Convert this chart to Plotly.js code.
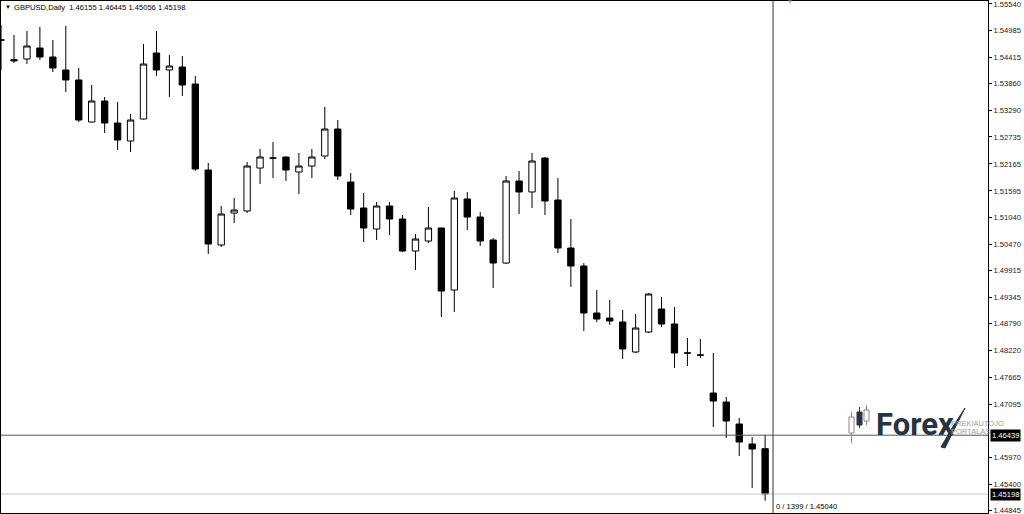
<!DOCTYPE html>
<html><head><meta charset="utf-8">
<script src="https://cdn.plot.ly/plotly-3.0.1.min.js"></script>
<style>html,body{margin:0;padding:0;background:#fff;overflow:hidden}#chart{width:1024px;height:514px}</style>
</head><body><div id="chart"></div><script>
// ---- data ----
const header = "GBPUSD,Daily  1.46155 1.46445 1.45056 1.45198";
const bars = [0,1,2,3,4,5,6,7,8,9,10,11,12,13,14,15,16,17,18,19,20,21,22,23,24,25,26,27,28,29,
  30,31,32,33,34,35,36,37,38,39,40,41,42,43,44,45,46,47,48,49,50,51,52,53,54,55,56,57,58,59];
const open = [1.54782,1.54365,1.54379,1.54611,1.54421,1.54147,1.53936,1.53049,1.53492,1.53028,
  1.52648,1.53112,1.54505,1.54147,1.54210,1.53851,1.52036,1.50453,1.51128,1.51171,
  1.52078,1.52291,1.52310,1.51994,1.52120,1.52331,1.52901,1.51783,1.51234,1.50791,
  1.51276,1.51002,1.50326,1.50537,1.50812,1.49503,1.51424,1.51044,1.50559,1.50073,
  1.51804,1.51572,1.52289,1.51403,1.50390,1.50010,1.49018,1.48912,1.48828,1.48195,
  1.48617,1.49102,1.48786,1.48176,1.48133,1.47329,1.47139,1.46675,1.46253,1.46155];
const high = [1.55096,1.54885,1.54970,1.55054,1.54780,1.55075,1.54189,1.53830,1.53577,1.53471,
  1.53218,1.54695,1.54970,1.54463,1.54442,1.54020,1.52184,1.51276,1.51445,1.52205,
  1.52479,1.52627,1.52318,1.52395,1.52479,1.53366,1.53091,1.51973,1.51551,1.51361,
  1.51361,1.51086,1.50685,1.51255,1.50820,1.51593,1.51572,1.51150,1.50601,1.51909,
  1.52015,1.52395,1.52310,1.51867,1.51002,1.50073,1.49503,1.49292,1.49081,1.48997,
  1.49440,1.49356,1.49144,1.48490,1.48469,1.48174,1.47245,1.46802,1.46401,1.46445];
const low = [1.54147,1.54294,1.54273,1.54358,1.54104,1.53682,1.53049,1.53040,1.52817,1.52458,
  1.52416,1.53100,1.54020,1.53577,1.53598,1.52015,1.50263,1.50411,1.50917,1.51128,
  1.51740,1.51867,1.51804,1.51529,1.51867,1.52268,1.51825,1.51086,1.50516,1.50559,
  1.50664,1.50305,1.49925,1.50495,1.48933,1.49039,1.50770,1.50432,1.49545,1.50052,
  1.51107,1.51234,1.51086,1.50284,1.49567,1.48638,1.48828,1.48765,1.48047,1.48174,
  1.48596,1.48722,1.47857,1.47899,1.48068,1.46612,1.46380,1.46000,1.45324,1.45056];
const close = [1.54778,1.54340,1.54653,1.54421,1.54189,1.53936,1.53091,1.53492,1.53028,1.52669,
  1.53091,1.54273,1.54147,1.54231,1.53830,1.52057,1.50474,1.51107,1.51192,1.52120,
  1.52310,1.52287,1.52036,1.52120,1.52310,1.52901,1.51909,1.51213,1.50812,1.51276,
  1.51002,1.50326,1.50580,1.50812,1.49482,1.51445,1.51044,1.50537,1.50073,1.51804,
  1.51572,1.52226,1.51382,1.50390,1.50010,1.49018,1.48891,1.48849,1.48258,1.48701,
  1.49419,1.48786,1.48174,1.48172,1.48129,1.47160,1.46738,1.46295,1.46147,1.45198];
const priceTicks = [1.55540,1.54985,1.54415,1.53860,1.53290,1.52735,1.52165,1.51595,1.51040,1.50470,
  1.49915,1.49345,1.48790,1.48220,1.47665,1.47095,1.45970,1.45400,1.44845];
const crossPrice = 1.46439;
const bidPrice = 1.45198;
const crossBar = 59.61;
const crossLabel = "0 / 1399 / 1.45040";
const logoWord = "Forex";
const logoSub1 = "PREKIAUTOJO";
const logoSub2 = "PORTALAS";

// ---- layout helpers ----
const W = 1024, H = 514, M = {l:1, r:36, t:1, b:1};
const px = x => (x - M.l) / (W - M.l - M.r);
const py = y => (H - M.b - y) / (H - M.t - M.b);
const FONT = '"Liberation Sans", Arial, sans-serif';

const trace = {
  type: 'candlestick', x: bars, open: open, high: high, low: low, close: close,
  increasing: {line: {color: '#000', width: 1}, fillcolor: '#ffffff'},
  decreasing: {line: {color: '#000', width: 1}, fillcolor: '#000000'},
  whiskerwidth: 0, hoverinfo: 'skip', showlegend: false
};

// logo mini candles (decoration, pixel boxes)
function miniCandle(cx, wTop, wBot, bTop, bBot, fill, lineCol) {
  return [
    {type:'line', xref:'paper', yref:'paper', x0:px(cx), x1:px(cx), y0:py(wTop), y1:py(wBot), line:{color:lineCol, width:1}, layer:'above'},
    {type:'rect', xref:'paper', yref:'paper', x0:px(cx-2.5), x1:px(cx+2.5), y0:py(bTop), y1:py(bBot), fillcolor:fill, line:{color:lineCol, width:1}, layer:'above'}
  ];
}

const shapes = [
  {type:'line', xref:'paper', yref:'y', x0:0, x1:1, y0:bidPrice, y1:bidPrice, line:{color:'#c8c8c8', width:1}},
  {type:'line', xref:'paper', yref:'y', x0:0, x1:1, y0:crossPrice, y1:crossPrice, line:{color:'#555555', width:1}},
  {type:'line', xref:'x', yref:'paper', x0:crossBar, x1:crossBar, y0:0, y1:1, line:{color:'#333333', width:1}},
  ...miniCandle(851.5, 412, 443, 417, 433, '#ffffff', '#8a8a8a'),
  ...miniCandle(859.5, 407, 428, 412, 425, '#2b3440', '#2b3440'),
  ...miniCandle(866.5, 405, 425, 410, 421, '#ffffff', '#8a8a8a'),
  {type:'path', xref:'paper', yref:'paper', layer:'above',
   path: `M ${px(941)},${py(447)} Q ${px(952)},${py(427)} ${px(965)},${py(408)} Q ${px(956)},${py(426)} ${px(945)},${py(448)} Z`,
   fillcolor:'#27333f', line:{color:'#27333f', width:1}}
];

const annotations = [
  {xref:'paper', yref:'paper', x:px(3), y:py(7), xanchor:'left', yanchor:'middle', showarrow:false,
   text:'▼', font:{family:FONT, size:6, color:'#000'}},
  {xref:'paper', yref:'paper', x:px(12), y:py(7), xanchor:'left', yanchor:'middle', showarrow:false,
   text: header.replace('  ', '&nbsp;&nbsp;'), font:{family:FONT, size:7.6, color:'#000'}},
  {xref:'paper', yref:'paper', x:px(790), y:py(2), xanchor:'center', yanchor:'middle', showarrow:false,
   text:'▼', font:{family:FONT, size:6, color:'#b0b0b0'}},
  {xref:'paper', yref:'paper', x:px(874), y:py(424), xanchor:'left', yanchor:'middle', showarrow:false,
   text:'<b>' + logoWord + '</b>', font:{family:'Roboto, "Open Sans", sans-serif', size:31, color:'#27333f'}},
  {xref:'paper', yref:'paper', x:px(949), y:py(423), xanchor:'left', yanchor:'middle', showarrow:false,
   text: logoSub1, font:{family:FONT, size:7.5, color:'#a0a0a0'}},
  {xref:'paper', yref:'paper', x:px(949), y:py(431), xanchor:'left', yanchor:'middle', showarrow:false,
   text: logoSub2, font:{family:FONT, size:7.5, color:'#a0a0a0'}},
  {xref:'paper', yref:'y', x:1, y:crossPrice, xanchor:'left', yanchor:'middle', xshift:2, showarrow:false,
   text: crossPrice.toFixed(5), bgcolor:'#000', borderpad:1, font:{family:FONT, size:7.6, color:'#fff'}},
  {xref:'paper', yref:'y', x:1, y:bidPrice, xanchor:'left', yanchor:'middle', xshift:2, showarrow:false,
   text: bidPrice.toFixed(5), bgcolor:'#000', borderpad:1, font:{family:FONT, size:7.6, color:'#fff'}},
  {xref:'x', yref:'paper', x:crossBar, y:py(506), xanchor:'left', yanchor:'middle', xshift:1, showarrow:false,
   text: crossLabel, font:{family:FONT, size:7.6, color:'#000'}}
];

const layout = {
  width: W, height: H, margin: M, paper_bgcolor:'#fff', plot_bgcolor:'#fff',
  showlegend: false, hovermode: false, dragmode: false,
  xaxis: {type:'linear', range:[-0.004, 76.21], showgrid:false, zeroline:false, showticklabels:false,
          ticks:'', showline:true, mirror:true, linecolor:'#000', linewidth:1, rangeslider:{visible:false}, fixedrange:true},
  yaxis: {side:'right', range:[1.44797, 1.55603], tickvals: priceTicks, ticktext: priceTicks.map(v => v.toFixed(5)),
          ticklabeloverflow:'allow',
          showgrid:false, zeroline:false, showline:true, mirror:true, linecolor:'#000', linewidth:1,
          ticks:'outside', ticklen:3, tickcolor:'#000', tickfont:{family:FONT, size:7.6, color:'#222'}, fixedrange:true},
  shapes: shapes, annotations: annotations
};

Plotly.newPlot('chart', [trace], layout, {staticPlot:true, displayModeBar:false});
</script></body></html>
